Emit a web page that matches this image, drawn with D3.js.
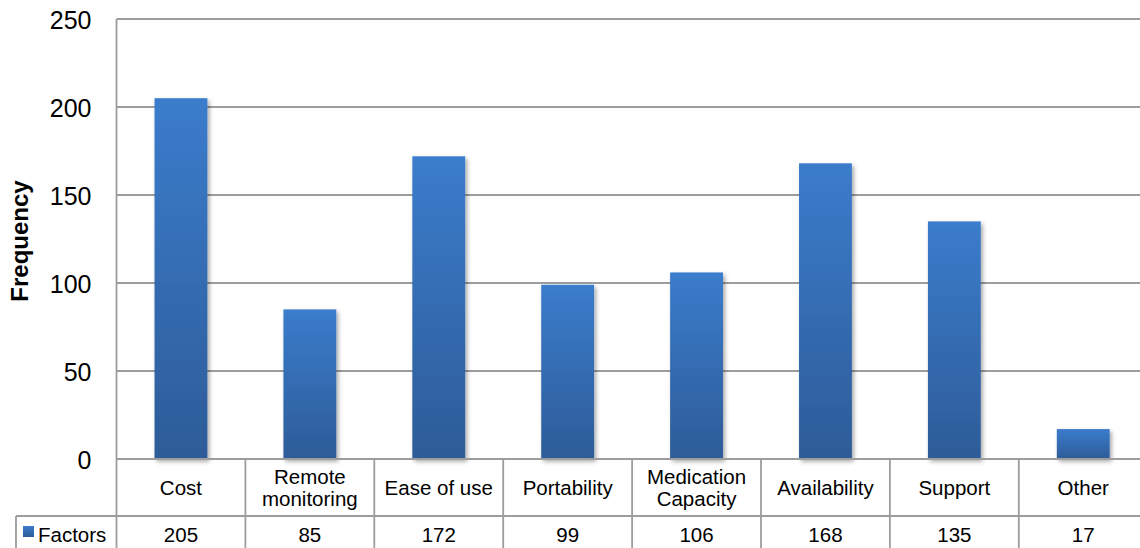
<!DOCTYPE html>
<html>
<head>
<meta charset="utf-8">
<script src="https://cdn.jsdelivr.net/npm/d3@7"></script>
<style>
  html, body { margin: 0; padding: 0; background: #fff; overflow: hidden; }
  svg { display: block; font-family: "Liberation Sans", Arial, sans-serif; }
</style>
</head>
<body>
<svg id="chart" width="1140" height="548"></svg>
<script>
// Chart data
const categories = ["Cost", "Remote monitoring", "Ease of use", "Portability", "Medication Capacity", "Availability", "Support", "Other"];
const categoryLines = [["Cost"], ["Remote", "monitoring"], ["Ease of use"], ["Portability"], ["Medication", "Capacity"], ["Availability"], ["Support"], ["Other"]];
const seriesName = "Factors";
const values = [205, 85, 172, 99, 106, 168, 135, 17];
const yTicks = [0, 50, 100, 150, 200, 250];
const yTitle = "Frequency";

const svg = d3.select("#chart");
const plotLeft = 116.5, plotTop = 19, plotBottom = 459;
const bandW = 128.9;
const plotRight = plotLeft + bandW * categories.length;
const tableRow1 = 516;   // bottom of category row
const tableBottom = 580; // table continues past the frame
const tableLeft = 16;
const gridColor = "#9d9d9d";

const x = d3.scaleBand().domain(categories).range([plotLeft, plotRight]).padding(0);
const y = d3.scaleLinear().domain([0, 250]).range([plotBottom, plotTop]);

// Defs: bar gradient and soft shadow
const defs = svg.append("defs");
const grad = defs.append("linearGradient").attr("id", "barGrad")
  .attr("x1", 0).attr("y1", 0).attr("x2", 0).attr("y2", 1);
grad.append("stop").attr("offset", "0%").attr("stop-color", "#3b7ccc");
grad.append("stop").attr("offset", "100%").attr("stop-color", "#2d5c98");
const f = defs.append("filter").attr("id", "shadow")
  .attr("x", "-20%").attr("y", "-20%").attr("width", "150%").attr("height", "150%");
f.append("feDropShadow").attr("dx", 2).attr("dy", 2.5).attr("stdDeviation", 2)
  .attr("flood-color", "#000").attr("flood-opacity", 0.35);

// Horizontal gridlines
svg.append("g").selectAll("line").data(yTicks).join("line")
  .attr("x1", plotLeft).attr("x2", 1140)
  .attr("y1", d => y(d)).attr("y2", d => y(d))
  .attr("stroke", gridColor).attr("stroke-width", 1.8);

// Y axis labels
const yAxis = d3.axisLeft(y).tickValues(yTicks).tickSize(0).tickPadding(0);
const ya = svg.append("g").attr("transform", `translate(${plotLeft - 25},0)`).call(yAxis);
ya.select(".domain").remove();
ya.selectAll("text").attr("font-size", 25).attr("fill", "#000")
  .attr("font-family", "Liberation Sans, Arial, sans-serif").attr("dy", "0.36em");

// Y title
svg.append("text")
  .attr("transform", `translate(28,${(plotTop + plotBottom) / 2 + 2}) rotate(-90)`)
  .attr("text-anchor", "middle").attr("font-size", 24).attr("font-weight", "bold")
  .text(yTitle);

// Bars
const barW = x.bandwidth() * 0.41;
svg.append("g").selectAll("rect").data(categories).join("rect")
  .attr("x", d => x(d) + (x.bandwidth() - barW) / 2)
  .attr("width", barW)
  .attr("y", (d, i) => y(values[i]))
  .attr("height", (d, i) => y(0) - y(values[i]))
  .attr("fill", "url(#barGrad)")
  .attr("filter", "url(#shadow)");

// Data table lines
const tbl = svg.append("g").attr("stroke", gridColor).attr("stroke-width", 1.8);
tbl.append("line").attr("x1", plotLeft).attr("x2", plotLeft).attr("y1", plotTop).attr("y2", tableBottom);
tbl.append("line").attr("x1", tableLeft).attr("x2", tableLeft).attr("y1", tableRow1).attr("y2", tableBottom);
tbl.append("line").attr("x1", tableLeft).attr("x2", 1140).attr("y1", tableRow1).attr("y2", tableRow1);
tbl.selectAll(".sep").data(categories.slice(1)).join("line")
  .attr("x1", d => x(d)).attr("x2", d => x(d))
  .attr("y1", plotBottom).attr("y2", tableBottom);
tbl.append("line").attr("x1", plotLeft).attr("x2", 1140).attr("y1", plotBottom).attr("y2", plotBottom);

// Category labels
const catG = svg.append("g").attr("font-size", 20.5).attr("text-anchor", "middle");
categories.forEach((c, i) => {
  const lines = categoryLines[i];
  const cx = x(c) + x.bandwidth() / 2;
  const mid = (plotBottom + tableRow1) / 2;
  const lh = 22.5;
  lines.forEach((ln, j) => {
    catG.append("text").attr("x", cx)
      .attr("y", mid + (j - (lines.length - 1) / 2) * lh)
      .attr("dy", "0.36em").text(ln);
  });
});

// Values row
svg.append("g").attr("font-size", 20.5).attr("text-anchor", "middle")
  .selectAll("text").data(categories).join("text")
  .attr("x", d => x(d) + x.bandwidth() / 2)
  .attr("y", 542)
  .text((d, i) => values[i]);

// Legend key and series name
svg.append("rect").attr("x", 23).attr("y", 526).attr("width", 11).attr("height", 11)
  .attr("fill", "url(#barGrad)");
svg.append("text").attr("x", 38).attr("y", 542).attr("font-size", 20.5).text(seriesName);
</script>
</body>
</html>
